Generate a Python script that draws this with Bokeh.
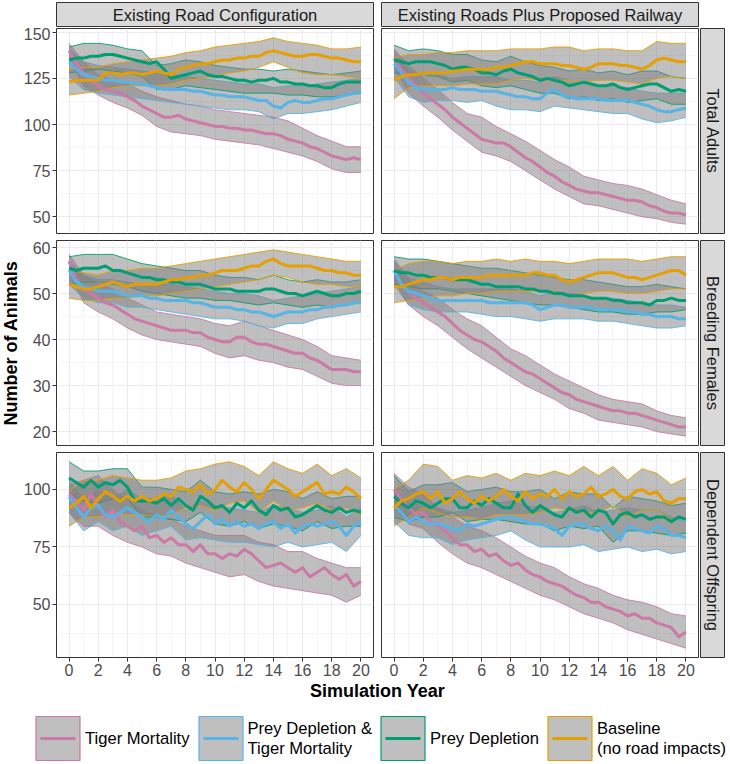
import math
from bokeh.plotting import figure
from bokeh.models import Range1d, FixedTicker, Spacer, Legend, LegendItem
from bokeh.layouts import row, column
from bokeh.embed import file_html
from bokeh.resources import INLINE
from bokeh.core.properties import value

FONT = "Liberation Sans"

# ---------------- data ----------------
YEARS_HALF = [i * 0.5 for i in range(41)]   # sampling grid of the means
YEARS_WHOLE = list(range(21))               # sampling grid of the ribbons

ROW_LABELS = ["Total Adults", "Breeding Females", "Dependent Offspring"]
COL_LABELS = ["Existing Road Configuration", "Existing Roads Plus Proposed Railway"]
SERIES_LABELS = ["Tiger Mortality", "Prey Depletion &\nTiger Mortality",
                 "Prey Depletion", "Baseline\n(no road impacts)"]
SERIES_COLORS = ["#CC79A7", "#56B4E9", "#009E73", "#E69F00"]

X_TICKS = [0, 2, 4, 6, 8, 10, 12, 14, 16, 18, 20]
X_MINOR = [1, 3, 5, 7, 9, 11, 13, 15, 17, 19]
Y_TICKS_ADULT = [50, 75, 100, 125, 150]
Y_MINOR_ADULT = [62.5, 87.5, 112.5, 137.5]
Y_TICKS_FEMALE = [20, 30, 40, 50, 60]
Y_MINOR_FEMALE = [25, 35, 45, 55]
Y_TICKS_OFFSPRING = [50, 75, 100]
Y_MINOR_OFFSPRING = [37.5, 62.5, 87.5, 112.5]

# Total adults, existing roads
ADULT_ROAD_TIGER = [140, 133, 128, 124, 121, 119, 118, 117, 115, 113, 110, 108, 106, 104, 104, 105, 103, 102, 101, 100,
                    99, 99, 98, 98, 97, 97, 96, 95, 95, 94, 92, 91, 90, 88, 87, 85, 83, 82, 81, 82, 81]
ADULT_ROAD_TIGER_LO = [135, 121, 116, 112, 109, 105, 99, 96, 95, 94, 92, 91, 90, 89, 87, 85, 83, 80, 76, 74, 74]
ADULT_ROAD_TIGER_HI = [144, 134, 127, 124, 122, 118, 115, 113, 111, 110, 108, 107, 106, 105, 104, 102, 98, 94, 91, 88, 88]
ADULT_ROAD_BOTH = [134, 130, 127, 126, 125, 124, 124, 123, 123, 122, 122, 121, 120, 119, 119, 119, 119, 118, 118, 117,
                   116, 116, 115, 115, 115, 114, 113, 113, 110, 109, 112, 113, 112, 112, 113, 114, 114, 115, 116, 117, 118]
ADULT_ROAD_BOTH_LO = [126, 119, 117, 116, 115, 114, 113, 112, 111, 110, 109, 108, 108, 107, 103, 106, 106, 107, 108, 110, 112]
ADULT_ROAD_BOTH_HI = [141, 134, 132, 131, 130, 129, 128, 127, 126, 125, 124, 123, 122, 122, 120, 121, 121, 122, 123, 124, 125]
ADULT_ROAD_PREY = [135, 136, 136, 137, 137, 138, 138, 137, 136, 135, 134, 133, 134, 130, 125, 126, 127, 128, 129, 127,
                   126, 126, 125, 124, 124, 123, 124, 124, 125, 123, 123, 122, 122, 121, 121, 120, 120, 122, 123, 123, 123]
ADULT_ROAD_PREY_LO = [128, 129, 130, 129, 128, 126, 119, 119, 121, 120, 119, 118, 117, 117, 117, 116, 116, 115, 115, 116, 117]
ADULT_ROAD_PREY_HI = [142, 144, 144, 143, 141, 140, 132, 133, 135, 134, 132, 131, 130, 130, 129, 130, 129, 128, 127, 128, 129]
ADULT_ROAD_BASE = [123, 124, 124, 124, 124, 128, 128, 127, 128, 128, 127, 128, 129, 128, 127, 130, 131, 132, 133, 133,
                   134, 135, 135, 136, 136, 137, 137, 139, 140, 139, 138, 137, 137, 138, 138, 137, 136, 136, 135, 134, 134]
ADULT_ROAD_BASE_LO = [116, 117, 118, 120, 121, 121, 121, 122, 124, 125, 126, 128, 129, 131, 134, 131, 128, 127, 127, 126, 125]
ADULT_ROAD_BASE_HI = [130, 131, 131, 133, 134, 135, 136, 137, 139, 140, 142, 143, 144, 145, 147, 145, 144, 143, 141, 141, 142]

# Total adults, roads plus railway
ADULT_RAIL_TIGER = [136, 130, 125, 121, 117, 114, 111, 108, 104, 101, 98, 95, 92, 91, 90, 90, 88, 85, 82, 80,
                    77, 74, 72, 69, 67, 65, 64, 63, 63, 62, 61, 60, 59, 59, 58, 56, 55, 53, 52, 52, 51]
ADULT_RAIL_TIGER_LO = [131, 117, 110, 104, 97, 91, 85, 83, 80, 75, 70, 65, 61, 57, 56, 54, 52, 50, 49, 47, 46]
ADULT_RAIL_TIGER_HI = [141, 132, 125, 119, 112, 106, 104, 99, 95, 91, 86, 81, 77, 72, 70, 68, 67, 65, 62, 59, 57]
ADULT_RAIL_BOTH = [133, 128, 123, 120, 119, 119, 119, 119, 120, 119, 119, 119, 118, 118, 118, 117, 116, 115, 115, 114,
                   114, 117, 119, 116, 115, 114, 114, 114, 114, 113, 113, 113, 113, 112, 111, 110, 108, 107, 107, 108, 109]
ADULT_RAIL_BOTH_LO = [126, 115, 112, 113, 113, 112, 113, 110, 108, 108, 107, 110, 109, 108, 107, 106, 106, 103, 101, 102, 104]
ADULT_RAIL_BOTH_HI = [140, 129, 126, 127, 125, 126, 126, 126, 124, 124, 123, 126, 124, 122, 121, 121, 120, 118, 117, 117, 117]
ADULT_RAIL_PREY = [135, 134, 133, 134, 134, 134, 133, 132, 130, 131, 131, 130, 128, 128, 127, 129, 130, 128, 127, 126,
                   124, 125, 124, 123, 121, 122, 123, 122, 121, 121, 122, 120, 119, 120, 121, 122, 122, 120, 118, 119, 118]
ADULT_RAIL_PREY_LO = [128, 127, 127, 126, 123, 124, 121, 120, 121, 119, 117, 117, 114, 115, 113, 114, 112, 113, 114, 111, 111]
ADULT_RAIL_PREY_HI = [143, 140, 141, 140, 138, 138, 135, 134, 137, 134, 132, 131, 129, 130, 128, 129, 127, 129, 129, 126, 125]
ADULT_RAIL_BASE = [124, 126, 127, 127, 128, 128, 128, 128, 129, 129, 130, 130, 130, 130, 131, 131, 132, 133, 134, 134,
                   133, 133, 133, 132, 132, 131, 130, 131, 133, 133, 133, 132, 132, 131, 130, 132, 135, 136, 135, 134, 134]
ADULT_RAIL_BASE_LO = [114, 120, 121, 121, 121, 122, 122, 122, 124, 125, 124, 124, 124, 123, 124, 124, 123, 122, 125, 126, 125]
ADULT_RAIL_BASE_HI = [136, 138, 138, 139, 139, 140, 140, 140, 141, 141, 141, 142, 142, 140, 141, 141, 140, 140, 145, 144, 144]

# Breeding females, existing roads
FEMALE_ROAD_TIGER = [57, 53, 51, 50, 49, 48, 47.5, 46.5, 45.5, 44.5, 44, 43.5, 43, 42.5, 42, 42, 42, 41.5, 41.5, 40.5,
                     40, 39.5, 39.5, 40.5, 40.5, 39.5, 39, 39, 38.5, 38, 37.5, 37, 37, 36, 35.5, 34.5, 33.5, 33.5, 33.5, 33, 33]
FEMALE_ROAD_TIGER_LO = [55, 48, 46, 44.5, 42.5, 41, 40, 39.5, 39, 38.5, 37, 36, 36.5, 35.5, 35, 34, 33.5, 32, 30.5, 30, 30]
FEMALE_ROAD_TIGER_HI = [58.5, 54, 52, 51, 49, 47.5, 46, 45.5, 45, 44.5, 43.5, 43, 44, 43, 42, 41, 40, 38.5, 36.5, 36, 35.5]
FEMALE_ROAD_BOTH = [55, 52.5, 51.5, 51, 50.5, 50.5, 50.5, 50, 49.5, 49.5, 49.5, 49, 49, 48.5, 48.5, 48.5, 48.5, 48, 48, 47.5,
                    47, 47, 47, 46.5, 46.5, 46, 46, 45.5, 45, 45.5, 46, 46, 46, 46.5, 46.5, 47, 47, 47.5, 47.5, 48, 48]
FEMALE_ROAD_BOTH_LO = [52, 49, 48, 48, 47, 47, 46.5, 46, 45.5, 45, 44.5, 44.5, 44, 43, 42.5, 43.5, 43.5, 44.5, 45, 45.5, 46]
FEMALE_ROAD_BOTH_HI = [57, 54, 53, 53, 52.5, 52, 52, 52, 51.5, 51, 50.5, 50, 50, 49.5, 48.5, 49, 49.5, 50, 50.5, 51, 51.5]
FEMALE_ROAD_PREY = [55.5, 55, 55.5, 55.5, 55.5, 56, 55, 55, 54.5, 54, 53.5, 53.5, 53, 53, 52.5, 52.5, 52, 52, 52, 51.5,
                    51, 51, 51, 50.5, 50.5, 50.5, 50.5, 51, 51, 50.5, 50, 50, 49.5, 50, 50.5, 50, 49.5, 49.5, 50, 50, 50.5]
FEMALE_ROAD_PREY_LO = [52, 52.5, 52.5, 52, 51.5, 50.5, 50, 49.5, 49, 49, 48.5, 48.5, 48, 47.5, 48, 47.5, 47, 47.5, 47, 47.5, 48]
FEMALE_ROAD_PREY_HI = [58, 58.5, 58.5, 58.5, 57.5, 56.5, 56, 55.5, 55, 55, 54, 53.5, 53.5, 53, 54, 53, 52.5, 53, 52.5, 52.5, 53]
FEMALE_ROAD_BASE = [52, 51.5, 51, 51, 51.5, 52, 52.5, 52, 51.5, 52, 52, 52, 52, 52.5, 53, 53, 53.5, 53.5, 54, 54,
                    54.5, 55, 55, 55, 55.5, 56, 56, 57, 57.5, 56.5, 56, 56, 56, 56, 55.5, 55, 55, 54.5, 54.5, 54, 54]
FEMALE_ROAD_BASE_LO = [49, 48.5, 48.5, 49, 49, 49.5, 49.5, 50, 50.5, 51, 51.5, 52, 52.5, 53, 54, 53.5, 52.5, 52, 52, 51.5, 51.5]
FEMALE_ROAD_BASE_HI = [55, 54.5, 54, 55, 55, 55.5, 55.5, 56, 56.5, 57, 57.5, 58, 58.5, 59, 59.5, 59, 58.5, 58, 57.5, 57, 57]

# Breeding females, roads plus railway
FEMALE_RAIL_TIGER = [55, 52, 50.5, 49, 48, 47, 46, 45, 43.5, 42, 41, 40, 39.5, 38.5, 37.5, 36, 35, 34, 33, 32.5,
                     31.5, 30.5, 29.5, 28.5, 28, 27, 26.5, 26, 25.5, 25, 24.5, 24.5, 24, 24, 23.5, 23, 22.5, 22, 21.5, 21, 21]
FEMALE_RAIL_TIGER_LO = [53, 47.5, 45, 43, 40.5, 38, 36, 34, 32, 30, 28.5, 27, 25, 24, 22.5, 22, 21.5, 21, 20, 19.5, 19]
FEMALE_RAIL_TIGER_HI = [57, 53, 50.5, 49, 46.5, 44.5, 43, 40.5, 38, 36.5, 34.5, 32.5, 31, 29.5, 28, 27, 26.5, 26, 24.5, 23.5, 23]
FEMALE_RAIL_BOTH = [55, 52, 50.5, 50, 49.5, 49, 48.5, 48.5, 48.5, 48.5, 48.5, 48.5, 48.5, 48, 48, 48, 48, 48, 48, 47.5,
                    46.5, 47, 47.5, 47.5, 47, 47, 47, 47, 46.5, 46.5, 46.5, 46.5, 46, 46, 45.5, 45.5, 45, 45, 45, 44.5, 44.5]
FEMALE_RAIL_BOTH_LO = [52, 47.5, 46.5, 46, 46, 46, 45.5, 45, 45, 44.5, 44, 44.5, 44.5, 44.5, 44, 44, 43.5, 43, 42.5, 42.5, 43]
FEMALE_RAIL_BOTH_HI = [57.5, 53.5, 52.5, 51.5, 51, 51, 51, 51, 51, 50.5, 49.5, 50.5, 50, 49.5, 49, 49, 48.5, 48, 47.5, 47.5, 47]
FEMALE_RAIL_PREY = [55, 54.5, 54.5, 54, 54, 53.5, 53.5, 53.5, 53, 53, 53, 52.5, 52, 52, 51.5, 51.5, 51.5, 51.5, 51, 51,
                    50.5, 50.5, 50, 50, 49.5, 49.5, 49.5, 49, 49, 49, 48.5, 48.5, 48, 48, 48, 47.5, 48.5, 48.5, 49, 48.5, 48.5]
FEMALE_RAIL_PREY_LO = [52, 51.5, 51, 51, 50.5, 50, 49.5, 49, 48.5, 48, 47.5, 47.5, 47, 46.5, 46, 46, 45.5, 45.5, 46, 46, 46.5]
FEMALE_RAIL_PREY_HI = [58, 57.5, 57.5, 57, 56.5, 56, 55.5, 55.5, 55, 54.5, 54, 53.5, 53, 53, 52.5, 52, 51.5, 51.5, 52, 51.5, 51]
FEMALE_RAIL_BASE = [51.5, 51.5, 52, 52.5, 53, 53, 53.5, 53.5, 53, 53.5, 53.5, 53.5, 53.5, 54, 54, 54, 54, 54, 54, 54.5,
                    54.5, 54, 54, 53, 52.5, 53, 53.5, 54, 54.5, 54.5, 54.5, 54, 53.5, 53.5, 53, 53.5, 54, 54.5, 55, 55, 54]
FEMALE_RAIL_BASE_LO = [48, 48.5, 49, 49.5, 49.5, 50, 50, 50.5, 50.5, 50.5, 50.5, 50.5, 49.5, 50, 50.5, 50.5, 50, 50, 50.5, 51, 51]
FEMALE_RAIL_BASE_HI = [55, 56.5, 57, 57, 56.5, 57, 57, 57.5, 57, 57.5, 57, 57, 56.5, 57, 57.5, 57.5, 57.5, 57, 57.5, 58, 58]

# Dependent offspring, existing roads
OFFSPRING_ROAD_TIGER = [98, 95, 91, 98, 93, 88, 91, 86, 84, 82, 84, 79, 80, 77, 79, 76, 76, 73, 76, 72,
                        72, 70, 72, 71, 74, 72, 69, 66, 67, 68, 66, 64, 66, 62, 64, 66, 63, 61, 63, 58, 60]
OFFSPRING_ROAD_TIGER_LO = [90, 84, 84, 80, 77, 75, 72, 71, 68, 66, 64, 62, 63, 60, 58, 57, 56, 55, 54, 51, 54]
OFFSPRING_ROAD_TIGER_HI = [102, 104, 106, 100, 95, 91, 88, 87, 84, 82, 80, 80, 80, 77, 76, 73, 73, 70, 68, 66, 66]
OFFSPRING_ROAD_BOTH = [97, 92, 88, 92, 93, 89, 88, 90, 92, 90, 88, 86, 89, 87, 91, 88, 85, 83, 86, 89,
                       85, 87, 84, 86, 84, 85, 83, 85, 86, 83, 85, 81, 84, 85, 84, 85, 86, 84, 80, 84, 86]
OFFSPRING_ROAD_BOTH_LO = [90, 82, 86, 82, 84, 80, 82, 84, 78, 79, 78, 77, 77, 76, 75, 77, 75, 76, 77, 73, 80]
OFFSPRING_ROAD_BOTH_HI = [104, 96, 100, 96, 100, 96, 96, 98, 91, 95, 92, 92, 91, 90, 93, 92, 90, 91, 93, 88, 92]
OFFSPRING_ROAD_PREY = [105, 103, 101, 104, 101, 103, 102, 104, 101, 95, 95, 95, 94, 96, 93, 96, 93, 91, 97, 95,
                       92, 93, 90, 94, 92, 95, 91, 89, 93, 91, 92, 88, 89, 91, 93, 91, 90, 92, 90, 91, 90]
OFFSPRING_ROAD_PREY_LO = [98, 95, 94, 96, 96, 88, 88, 87, 86, 90, 85, 84, 86, 83, 85, 84, 82, 86, 83, 84, 84]
OFFSPRING_ROAD_PREY_HI = [112, 108, 108, 109, 109, 101, 101, 100, 99, 104, 99, 98, 99, 98, 100, 99, 96, 99, 96, 97, 97]
OFFSPRING_ROAD_BASE = [92, 94, 97, 92, 96, 99, 97, 95, 97, 95, 97, 95, 96, 98, 97, 101, 100, 99, 102, 98,
                       100, 104, 101, 99, 103, 100, 96, 100, 104, 102, 100, 97, 99, 101, 103, 98, 99, 98, 101, 99, 96]
OFFSPRING_ROAD_BASE_LO = [84, 88, 88, 90, 89, 89, 88, 89, 92, 93, 91, 94, 95, 90, 95, 91, 92, 94, 91, 92, 89]
OFFSPRING_ROAD_BASE_HI = [99, 104, 104, 106, 105, 104, 104, 105, 108, 109, 111, 112, 110, 106, 112, 109, 107, 111, 106, 109, 105]

# Dependent offspring, roads plus railway
OFFSPRING_RAIL_TIGER = [100, 96, 92, 89, 90, 86, 84, 82, 79, 76, 76, 73, 74, 71, 72, 69, 67, 68, 65, 63,
                        62, 60, 59, 58, 56, 54, 53, 51, 51, 49, 48, 47, 45, 46, 44, 44, 42, 41, 40, 36, 38]
OFFSPRING_RAIL_TIGER_LO = [93, 85, 83, 77, 72, 68, 66, 63, 60, 57, 54, 52, 49, 46, 44, 42, 39, 37, 35, 33, 31]
OFFSPRING_RAIL_TIGER_HI = [107, 101, 98, 92, 88, 84, 82, 79, 75, 71, 68, 66, 62, 59, 57, 54, 52, 51, 49, 46, 45]
OFFSPRING_RAIL_BOTH = [93, 90, 86, 88, 86, 85, 85, 84, 83, 82, 85, 84, 85, 86, 87, 88, 88, 87, 86, 85,
                       85, 84, 83, 80, 84, 85, 85, 83, 82, 84, 82, 78, 84, 83, 82, 81, 84, 83, 80, 80, 79]
OFFSPRING_RAIL_BOTH_LO = [86, 80, 79, 79, 76, 78, 79, 80, 82, 78, 75, 75, 75, 76, 73, 74, 75, 73, 74, 72, 73]
OFFSPRING_RAIL_BOTH_HI = [100, 94, 93, 92, 90, 91, 92, 94, 95, 93, 92, 90, 91, 93, 90, 91, 92, 91, 91, 88, 86]
OFFSPRING_RAIL_PREY = [97, 94, 92, 95, 94, 92, 94, 96, 96, 92, 92, 95, 93, 96, 94, 92, 92, 98, 93, 90,
                       93, 91, 89, 88, 92, 90, 91, 88, 91, 90, 85, 89, 90, 88, 89, 87, 88, 88, 86, 88, 87]
OFFSPRING_RAIL_PREY_LO = [88, 86, 88, 88, 90, 86, 87, 87, 86, 85, 85, 82, 84, 83, 84, 77, 82, 82, 81, 80, 81]
OFFSPRING_RAIL_PREY_HI = [106, 99, 102, 102, 103, 99, 100, 101, 99, 99, 100, 96, 99, 98, 98, 92, 97, 96, 95, 93, 94]
OFFSPRING_RAIL_BASE = [92, 95, 96, 98, 99, 96, 99, 94, 96, 99, 96, 94, 97, 95, 97, 100, 97, 95, 99, 96,
                       98, 97, 100, 96, 99, 97, 98, 101, 97, 98, 100, 97, 96, 99, 100, 98, 99, 95, 94, 96, 96]
OFFSPRING_RAIL_BASE_LO = [84, 88, 92, 90, 88, 88, 87, 89, 89, 89, 90, 92, 91, 90, 90, 93, 88, 91, 91, 87, 88]
OFFSPRING_RAIL_BASE_HI = [100, 104, 111, 110, 104, 106, 105, 107, 104, 107, 106, 108, 106, 110, 106, 110, 104, 109, 107, 102, 105]

PANELS = {
    (0, 0): [(ADULT_ROAD_TIGER, ADULT_ROAD_TIGER_LO, ADULT_ROAD_TIGER_HI),
             (ADULT_ROAD_BOTH, ADULT_ROAD_BOTH_LO, ADULT_ROAD_BOTH_HI),
             (ADULT_ROAD_PREY, ADULT_ROAD_PREY_LO, ADULT_ROAD_PREY_HI),
             (ADULT_ROAD_BASE, ADULT_ROAD_BASE_LO, ADULT_ROAD_BASE_HI)],
    (0, 1): [(ADULT_RAIL_TIGER, ADULT_RAIL_TIGER_LO, ADULT_RAIL_TIGER_HI),
             (ADULT_RAIL_BOTH, ADULT_RAIL_BOTH_LO, ADULT_RAIL_BOTH_HI),
             (ADULT_RAIL_PREY, ADULT_RAIL_PREY_LO, ADULT_RAIL_PREY_HI),
             (ADULT_RAIL_BASE, ADULT_RAIL_BASE_LO, ADULT_RAIL_BASE_HI)],
    (1, 0): [(FEMALE_ROAD_TIGER, FEMALE_ROAD_TIGER_LO, FEMALE_ROAD_TIGER_HI),
             (FEMALE_ROAD_BOTH, FEMALE_ROAD_BOTH_LO, FEMALE_ROAD_BOTH_HI),
             (FEMALE_ROAD_PREY, FEMALE_ROAD_PREY_LO, FEMALE_ROAD_PREY_HI),
             (FEMALE_ROAD_BASE, FEMALE_ROAD_BASE_LO, FEMALE_ROAD_BASE_HI)],
    (1, 1): [(FEMALE_RAIL_TIGER, FEMALE_RAIL_TIGER_LO, FEMALE_RAIL_TIGER_HI),
             (FEMALE_RAIL_BOTH, FEMALE_RAIL_BOTH_LO, FEMALE_RAIL_BOTH_HI),
             (FEMALE_RAIL_PREY, FEMALE_RAIL_PREY_LO, FEMALE_RAIL_PREY_HI),
             (FEMALE_RAIL_BASE, FEMALE_RAIL_BASE_LO, FEMALE_RAIL_BASE_HI)],
    (2, 0): [(OFFSPRING_ROAD_TIGER, OFFSPRING_ROAD_TIGER_LO, OFFSPRING_ROAD_TIGER_HI),
             (OFFSPRING_ROAD_BOTH, OFFSPRING_ROAD_BOTH_LO, OFFSPRING_ROAD_BOTH_HI),
             (OFFSPRING_ROAD_PREY, OFFSPRING_ROAD_PREY_LO, OFFSPRING_ROAD_PREY_HI),
             (OFFSPRING_ROAD_BASE, OFFSPRING_ROAD_BASE_LO, OFFSPRING_ROAD_BASE_HI)],
    (2, 1): [(OFFSPRING_RAIL_TIGER, OFFSPRING_RAIL_TIGER_LO, OFFSPRING_RAIL_TIGER_HI),
             (OFFSPRING_RAIL_BOTH, OFFSPRING_RAIL_BOTH_LO, OFFSPRING_RAIL_BOTH_HI),
             (OFFSPRING_RAIL_PREY, OFFSPRING_RAIL_PREY_LO, OFFSPRING_RAIL_PREY_HI),
             (OFFSPRING_RAIL_BASE, OFFSPRING_RAIL_BASE_LO, OFFSPRING_RAIL_BASE_HI)],
}
Y_TICKS = [(Y_TICKS_ADULT, Y_MINOR_ADULT), (Y_TICKS_FEMALE, Y_MINOR_FEMALE), (Y_TICKS_OFFSPRING, Y_MINOR_OFFSPRING)]

# ---------------- layout constants ----------------
PW = 317      # panel frame width
PH = 205      # panel frame height
YT = 20       # y-title column width
YAX = 36      # left axis border
XAX = 22      # bottom axis border
GAP_X = 6
GAP_Y = 5
STRIP = 24    # strip frame thickness
LEG_W = 710   # legend strip width
LEG_X = 23    # legend strip left offset
LEG_H = 52

X_RANGE = (-0.86, 20.86)


def row_range(r):
    lo = min(min(s[1]) for c in (0, 1) for s in PANELS[(r, c)])
    hi = max(max(s[2]) for c in (0, 1) for s in PANELS[(r, c)])
    pad = 0.05 * (hi - lo)
    return lo - pad, hi + pad


def make_panel(r, c):
    left = c == 0
    bottom = r == 2
    ylo, yhi = row_range(r)
    w = (YAX if left else 1) + PW + 1
    h = 1 + PH + (XAX if bottom else 1)
    p = figure(width=w, height=h, x_range=Range1d(*X_RANGE), y_range=Range1d(ylo, yhi),
               output_backend="svg", toolbar_location=None,
               x_axis_location="below" if bottom else None,
               y_axis_location="left" if left else None,
               min_border=0)
    p.min_border_left = YAX if left else 1
    p.min_border_right = 1
    p.min_border_top = 1
    p.min_border_bottom = XAX if bottom else 1
    p.background_fill_color = "white"
    p.border_fill_color = "white"
    p.outline_line_color = "#333333"
    p.outline_line_width = 1

    yt, ym = Y_TICKS[r]
    for g in p.xgrid:
        g.ticker = FixedTicker(ticks=X_TICKS, minor_ticks=X_MINOR)
    for g in p.ygrid:
        g.ticker = FixedTicker(ticks=yt, minor_ticks=ym)
    for g in list(p.xgrid) + list(p.ygrid):
        g.grid_line_color = "#EBEBEB"
        g.grid_line_width = 1.1
        g.minor_grid_line_color = "#EEEEEE"
        g.minor_grid_line_width = 0.6

    axes = []
    if left:
        p.yaxis.ticker = FixedTicker(ticks=yt)
        axes += list(p.yaxis)
    if bottom:
        p.xaxis.ticker = FixedTicker(ticks=X_TICKS)
        axes += list(p.xaxis)
    for ax in axes:
        ax.axis_line_color = None
        ax.major_tick_line_color = "#333333"
        ax.major_tick_out = 4
        ax.major_tick_in = 0
        ax.minor_tick_line_color = None
        ax.major_label_standoff = 2
        ax.major_label_text_font = FONT
        ax.major_label_text_font_size = "16px"
        ax.major_label_text_color = "#4D4D4D"

    series = PANELS[(r, c)]
    for (mean, lo, hi), col in zip(series, SERIES_COLORS):
        p.varea(x=YEARS_WHOLE, y1=lo, y2=hi, fill_color="#7F7F7F", fill_alpha=0.5)
        p.line(YEARS_WHOLE, lo, line_color=col, line_width=0.9)
        p.line(YEARS_WHOLE, hi, line_color=col, line_width=0.9)
    for (mean, lo, hi), col in zip(series, SERIES_COLORS):
        p.line(YEARS_HALF, mean, line_color=col, line_width=3, line_join="round")
    return p


def make_strip(text, w, h, vertical):
    s = figure(width=w, height=h, x_range=Range1d(0, 1), y_range=Range1d(0, 1),
               output_backend="svg", toolbar_location=None,
               x_axis_location=None, y_axis_location=None, min_border=1)
    s.grid.visible = False
    s.background_fill_color = "#D9D9D9"
    s.border_fill_color = "white"
    s.outline_line_color = "#333333"
    s.text(x=[0.5], y=[0.5], text=[text], text_align="center", text_baseline="middle",
           angle=-math.pi / 2 if vertical else 0.0,
           text_font=value(FONT), text_font_size="16.5px", text_color="#1A1A1A")
    return s


def make_title(text, w, h, vertical):
    t = figure(width=w, height=h, x_range=Range1d(0, 1), y_range=Range1d(0, 1),
               output_backend="svg", toolbar_location=None,
               x_axis_location=None, y_axis_location=None, min_border=0)
    t.grid.visible = False
    t.outline_line_color = None
    t.text(x=[0.5], y=[0.5], text=[text], text_align="center", text_baseline="middle",
           angle=math.pi / 2 if vertical else 0.0,
           text_font=value(FONT), text_font_size="18px", text_font_style="bold",
           text_color="black")
    return t


panels = {(r, c): make_panel(r, c) for r in range(3) for c in range(2)}

top = column(Spacer(width=10, height=1),
             row(Spacer(width=YT + YAX - 1, height=STRIP + 2),
                 make_strip(COL_LABELS[0], PW + 2, STRIP + 2, False),
                 Spacer(width=GAP_X, height=STRIP + 2),
                 make_strip(COL_LABELS[1], PW + 2, STRIP + 2, False)))

left_col = column(panels[(0, 0)], Spacer(width=10, height=GAP_Y), panels[(1, 0)],
                  Spacer(width=10, height=GAP_Y), panels[(2, 0)])
right_col = column(panels[(0, 1)], Spacer(width=10, height=GAP_Y), panels[(1, 1)],
                   Spacer(width=10, height=GAP_Y), panels[(2, 1)])
strip_col = column(make_strip(ROW_LABELS[0], STRIP + 2, PH + 2, True), Spacer(width=10, height=GAP_Y),
                   make_strip(ROW_LABELS[1], STRIP + 2, PH + 2, True), Spacer(width=10, height=GAP_Y),
                   make_strip(ROW_LABELS[2], STRIP + 2, PH + 2, True))
ytitle = column(make_title("Number of Animals", YT, 3 * PH + 2 * GAP_Y + 6, True))

mid = row(ytitle, left_col, Spacer(width=GAP_X, height=10), right_col, strip_col)
xtitle = row(Spacer(width=YT + YAX, height=22), make_title("Simulation Year", 2 * PW + GAP_X + 2, 22, False))

# legend (dummy renderers only carry the key styling)
NAN = float("nan")
lf = figure(width=LEG_W, height=LEG_H,
            x_range=Range1d(0, 1), y_range=Range1d(0, 1),
            output_backend="svg", toolbar_location=None,
            x_axis_location=None, y_axis_location=None, min_border=0)
lf.grid.visible = False
lf.outline_line_color = None
items = []
for lab, col in zip(SERIES_LABELS, SERIES_COLORS):
    pr = lf.patch(x=[NAN], y=[NAN], fill_color="#7F7F7F", fill_alpha=0.5, line_color=col, line_width=1.2)
    lr = lf.line(x=[NAN], y=[NAN], line_color=col, line_width=3, line_dash="0 10 35 10")
    items.append(LegendItem(label=lab, renderers=[pr, lr]))
leg = Legend(items=items, orientation="horizontal", location="center",
             glyph_width=55, glyph_height=55, label_standoff=0, spacing=3,
             padding=0, margin=0, border_line_color=None, background_fill_alpha=0,
             label_text_font=FONT, label_text_font_size="16.6px", label_text_color="black")
lf.add_layout(leg, "center")

legend_row = row(Spacer(width=LEG_X, height=LEG_H), lf)

layout = column(top, mid, xtitle, Spacer(width=10, height=11), legend_row)

open("out.html", "w").write(file_html(layout, INLINE))
